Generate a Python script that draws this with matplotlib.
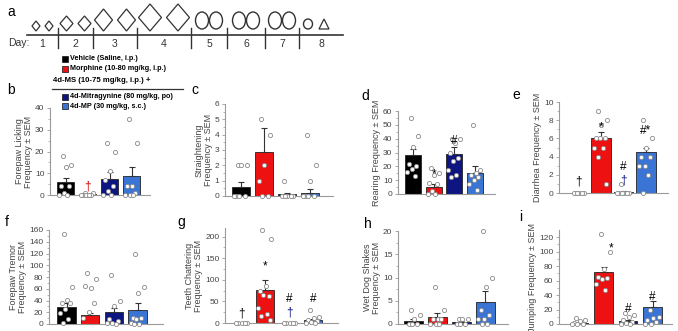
import numpy as np
import matplotlib
matplotlib.use("Agg")
import matplotlib.pyplot as plt
from matplotlib.patches import Polygon, Ellipse, Rectangle

plt.rcParams['font.family'] = ['Liberation Sans', 'DejaVu Sans']

W, H = 678, 331

# group colours: vehicle, morphine, 4d-mitragynine, 4d-MP
colors = ['#000000', '#ee1111', '#0c1580', '#3a74d4']
legend_labels = ['Vehicle (Saline, i.p.)', 'Morphine (10-80 mg/kg, i.p.)',
                 '4d-Mitragynine (80 mg/kg, po)', '4d-MP (30 mg/kg, s.c.)']

# timeline (panel a)
days = [1, 2, 3, 4, 5, 6, 7, 8]
day_edges = [27, 58, 93, 137, 191, 227, 265, 299, 343]
day_shapes = ['diamond', 'diamond', 'diamond', 'diamond', 'circle', 'circle', 'circle', 'mixed']
shape_w = [8, 13, 18, 23, 13, 13, 13, 9]
shape_h = [10, 15, 22, 27, 17, 17, 17, 10]

# panel data: means, sem, individual points
forepaw_lick_mean = [6.0, 0.3, 7.5, 8.6]
forepaw_lick_sem = [2.0, 0.3, 3.0, 4.2]
forepaw_lick_pts = [[18, 14, 13, 4, 4, 1, 0, 0],
                    [1, 1, 0, 0, 0, 0, 0, 0],
                    [24, 20, 11, 7, 4, 2, 0, 0],
                    [35, 24, 4, 4, 1, 0, 0, 0]]

straight_mean = [0.6, 2.9, 0.1, 0.2]
straight_sem = [0.32, 1.55, 0.12, 0.25]
straight_pts = [[2, 2, 2, 0, 0, 0, 0],
                [5, 4, 2, 1, 0, 0],
                [1, 0, 0, 0, 0, 0],
                [4, 2, 1, 0, 0, 0, 0]]

rearing_mean = [28, 5, 29, 15.5]
rearing_sem = [4.5, 2.0, 5.0, 4.5]
rearing_pts = [[55, 42, 34, 22, 20, 18, 16, 13],
               [19, 15, 14, 8, 7, 2, 0, 0],
               [40, 40, 37, 30, 26, 24, 17, 14, 12],
               [50, 17, 15, 14, 12, 10, 7, 3]]

diarrhea_mean = [0.0, 6.0, 0.1, 4.5]
diarrhea_sem = [0.0, 0.65, 0.1, 0.5]
diarrhea_pts = [[0, 0, 0, 0, 0, 0],
                [9, 8, 7.5, 6, 6, 6, 5, 5, 4, 1],
                [1, 0, 0, 0, 0, 0, 0],
                [8, 6, 5, 4, 4, 3, 3, 2, 0]]

tremor_mean = [29, 15, 20, 23]
tremor_sem = [6, 4, 8, 13]
tremor_pts = [[153, 63, 41, 36, 35, 25, 18, 8, 2],
              [86, 76, 62, 65, 35, 20, 10],
              [83, 39, 31, 8, 5, 2, 1, 0],
              [119, 63, 52, 10, 10, 8, 2, 0, 0]]

teeth_mean = [0.5, 77, 0.5, 7]
teeth_sem = [0.0, 23, 0.0, 3]
teeth_pts = [[0, 0, 0, 0, 0],
             [215, 195, 85, 75, 62, 65, 35, 20, 17, 8],
             [0, 0, 0, 0, 0],
             [30, 15, 12, 8, 5, 2, 0, 0]]

wds_mean = [0.7, 1.5, 0.4, 4.8]
wds_sem = [0.3, 0.8, 0.2, 2.2]
wds_pts = [[3, 2, 1, 0, 0, 0],
           [8, 3, 1, 1, 1, 0, 0, 0],
           [1, 1, 1, 0, 0, 0],
           [20, 10, 8, 3, 2, 1, 1, 0, 0]]

jump_mean = [2, 72, 4, 24]
jump_sem = [1, 7, 2, 8]
jump_pts = [[8, 5, 4, 2, 0, 0, 0],
            [125, 100, 76, 65, 64, 62, 55, 47],
            [15, 12, 10, 5, 3, 2, 0, 0],
            [20, 10, 8, 5, 3, 0, 0]]

# significance marks: (group, y, text, colour)
marks_b = [(1, 4, '\u2020', '#cc0000')]
marks_d = [(1, 14, '*', 'black'), (2, 38, '#', 'black')]
marks_e = [(0, 1.3, '\u2020', 'black'), (1, 7.2, '*', 'black'), (2, 2.9, '#', 'black'),
           (2, 1.4, '\u2020', '#0c1580'), (3, 6.8, '#*', 'black')]
marks_g = [(0, 22, '\u2020', 'black'), (1, 132, '*', 'black'), (2, 55, '#', 'black'),
           (2, 24, '\u2020', '#0c1580'), (3, 55, '#', 'black')]
marks_i = [(1.3, 104, '*', 'black'), (2, 21, '#', 'black'), (3, 37, '#', 'black')]

fig = plt.figure(figsize=(W / 100, H / 100), dpi=100)


def px_axes(left, right, top, bottom):
    return fig.add_axes([left / W, 1 - bottom / H, (right - left) / W, (bottom - top) / H])


def spread(n):
    # fixed, non-random horizontal spread of the dots inside a bar
    k = np.arange(n)
    return ((k * 0.618 + 0.3) % 1.0 - 0.5) * 0.6


def bar_panel(box, c0, step, width, ylim, yticks, mean, sem, pts, ylabel, letter, letter_xy,
              marks=(), labelpad=1.5):
    left, right, top, bottom = box
    ax = px_axes(left, right, top, bottom)
    ax.patch.set_visible(False)
    x = np.arange(4)
    ax.bar(x, mean, width=width, color=colors, edgecolor='#222222', linewidth=0.6, zorder=2)
    ax.errorbar(x, mean, yerr=[np.zeros(4), sem], fmt='none', ecolor='#333333',
                elinewidth=0.8, capsize=2.5, capthick=0.8, zorder=3)
    for i, p in enumerate(pts):
        ax.plot(i + spread(len(p)), p, 'o', ms=3.0, mfc='white', mec='#8a8a8a', mew=0.6,
                zorder=4, clip_on=False)
    for gx, gy, t, c in marks:
        ax.text(gx, gy, t, color=c, ha='center', va='center', fontsize=8.5, zorder=5)
    ax.set_xlim(-(c0 - left) / step, (right - c0) / step)
    ax.set_ylim(*ylim)
    ax.set_xticks([])
    ax.set_yticks(yticks)
    minor = np.arange(yticks[0], yticks[-1], (yticks[1] - yticks[0]) / 2)
    ax.set_yticks(minor, minor=True)
    for s in ['top', 'right']:
        ax.spines[s].set_visible(False)
    for s in ['left', 'bottom']:
        ax.spines[s].set_color('#9a9a9a')
        ax.spines[s].set_linewidth(0.8)
    ax.tick_params(axis='y', which='major', labelsize=6, colors='#9a9a9a', labelcolor='#444444',
                   length=2.5, width=0.6, pad=1.5)
    ax.tick_params(axis='y', which='minor', colors='#9a9a9a', length=1.5, width=0.5)
    ax.set_ylabel(ylabel, fontsize=6.5, color='#444444', labelpad=labelpad, linespacing=1.05)
    fig.text(letter_xy[0] / W, 1 - letter_xy[1] / H, letter, fontsize=10,
             ha='left', va='center')
    return ax


bar_panel((50, 150, 108, 195), 65.5, 22, 0.78, (0, 40), [0, 10, 20, 30, 40],
          forepaw_lick_mean, forepaw_lick_sem, forepaw_lick_pts,
          'Forepaw Licking\nFrequency \u00b1 SEM', 'b', (7, 90), marks_b)
bar_panel((225, 333, 104, 196), 241, 23, 0.78, (0, 6), [0, 1, 2, 3, 4, 5, 6],
          straight_mean, straight_sem, straight_pts,
          'Straightening\nFrequency \u00b1 SEM', 'c', (191, 90))
bar_panel((398, 495, 111, 194), 413, 20.7, 0.78, (0, 60), [0, 10, 20, 30, 40, 50, 60],
          rearing_mean, rearing_sem, rearing_pts,
          'Rearing Frequency \u00b1 SEM', 'd', (361, 96), marks_d)
bar_panel((559, 668, 102, 193), 578.5, 22.5, 0.85, (0, 10), [0, 2, 4, 6, 8, 10],
          diarrhea_mean, diarrhea_sem, diarrhea_pts,
          'Diarrhea Frequency \u00b1 SEM', 'e', (512, 95), marks_e)
bar_panel((49, 163, 230, 324), 66.5, 23.7, 0.78, (0, 160), list(range(0, 161, 20)),
          tremor_mean, tremor_sem, tremor_pts,
          'Forepaw Tremor\nFrequency \u00b1 SEM', 'f', (5, 222))
bar_panel((225, 338, 228, 323), 241, 24, 0.78, (0, 220), [0, 50, 100, 150, 200],
          teeth_mean, teeth_sem, teeth_pts,
          'Teeth Chattering\nFrequency \u00b1 SEM', 'g', (177, 222), marks_g)
bar_panel((398, 508, 231, 324), 413.5, 24, 0.76, (0, 20), [0, 5, 10, 15, 20],
          wds_mean, wds_sem, wds_pts,
          'Wet Dog Shakes\nFrequency \u00b1 SEM', 'h', (364, 224))
bar_panel((559, 672, 230, 324), 579, 24.5, 0.76, (0, 130), list(range(0, 121, 20)),
          jump_mean, jump_sem, jump_pts,
          'Jumping Frequency \u00b1 SEM', 'i', (519, 217), marks_i)

# overlay axes in pixel units for the timeline and legend
ov = fig.add_axes([0, 0, 1, 1], zorder=5)
ov.patch.set_visible(False)
ov.set_xlim(0, W)
ov.set_ylim(H, 0)
ov.axis('off')

line_y = 35
ov.plot([day_edges[0], day_edges[-1]], [line_y, line_y], color='#333333', lw=1.2)
for e in day_edges[1:-1]:
    ov.plot([e, e], [line_y - 7, line_y + 13], color='#333333', lw=1.0)
ov.text(8, 43, 'Day:', fontsize=7.5, color='#333333', va='center', ha='left')
for d, a, b, kind, w, h in zip(days, day_edges[:-1], day_edges[1:], day_shapes, shape_w, shape_h):
    cx = (a + b) / 2
    ov.text(cx, 44, str(d), fontsize=7.5, color='#333333', ha='center', va='center')
    gap = 2.5
    if kind == 'diamond':
        base = 31
        for sx in (cx - w / 2 - gap, cx + w / 2 + gap):
            cy = base - h / 2
            ov.add_patch(Polygon([[sx, cy - h / 2], [sx + w / 2, cy], [sx, cy + h / 2], [sx - w / 2, cy]],
                                 closed=True, fill=False, ec='#333333', lw=0.9))
    elif kind == 'circle':
        base = 29
        for sx in (cx - w / 2 - 0.5, cx + w / 2 + 0.5):
            ov.add_patch(Ellipse((sx, base - h / 2), w, h, fill=False, ec='#333333', lw=1.0))
    else:
        base = 29
        sx = cx - 13
        ov.add_patch(Ellipse((sx, base - h / 2), w, h, fill=False, ec='#333333', lw=1.0))
        tx = cx + 3
        ov.add_patch(Polygon([[tx - 5, base], [tx + 5, base], [tx, base - h]], closed=True,
                             fill=False, ec='#333333', lw=0.9))

fig.text(7 / W, 1 - 12 / H, 'a', fontsize=10, ha='left', va='center')

# legend
leg_rows = [59, 69, 97, 106]
leg_x = [62, 62, 62, 62]
for lbl, c, y, x in zip(legend_labels, colors, leg_rows, leg_x):
    ov.add_patch(Rectangle((x, y - 3), 6, 6, fc=c, ec='#111111', lw=0.5))
    ov.text(x + 8, y, lbl, fontsize=5.2, fontweight='bold', va='center', ha='left')
ov.text(53, 81, '4d-MS (10-75 mg/kg, i.p.) +', fontsize=5.6, fontweight='bold', va='center')
ov.plot([52, 183], [89, 89], color='#333333', lw=0.9)

fig.savefig('out.png', dpi=100)
